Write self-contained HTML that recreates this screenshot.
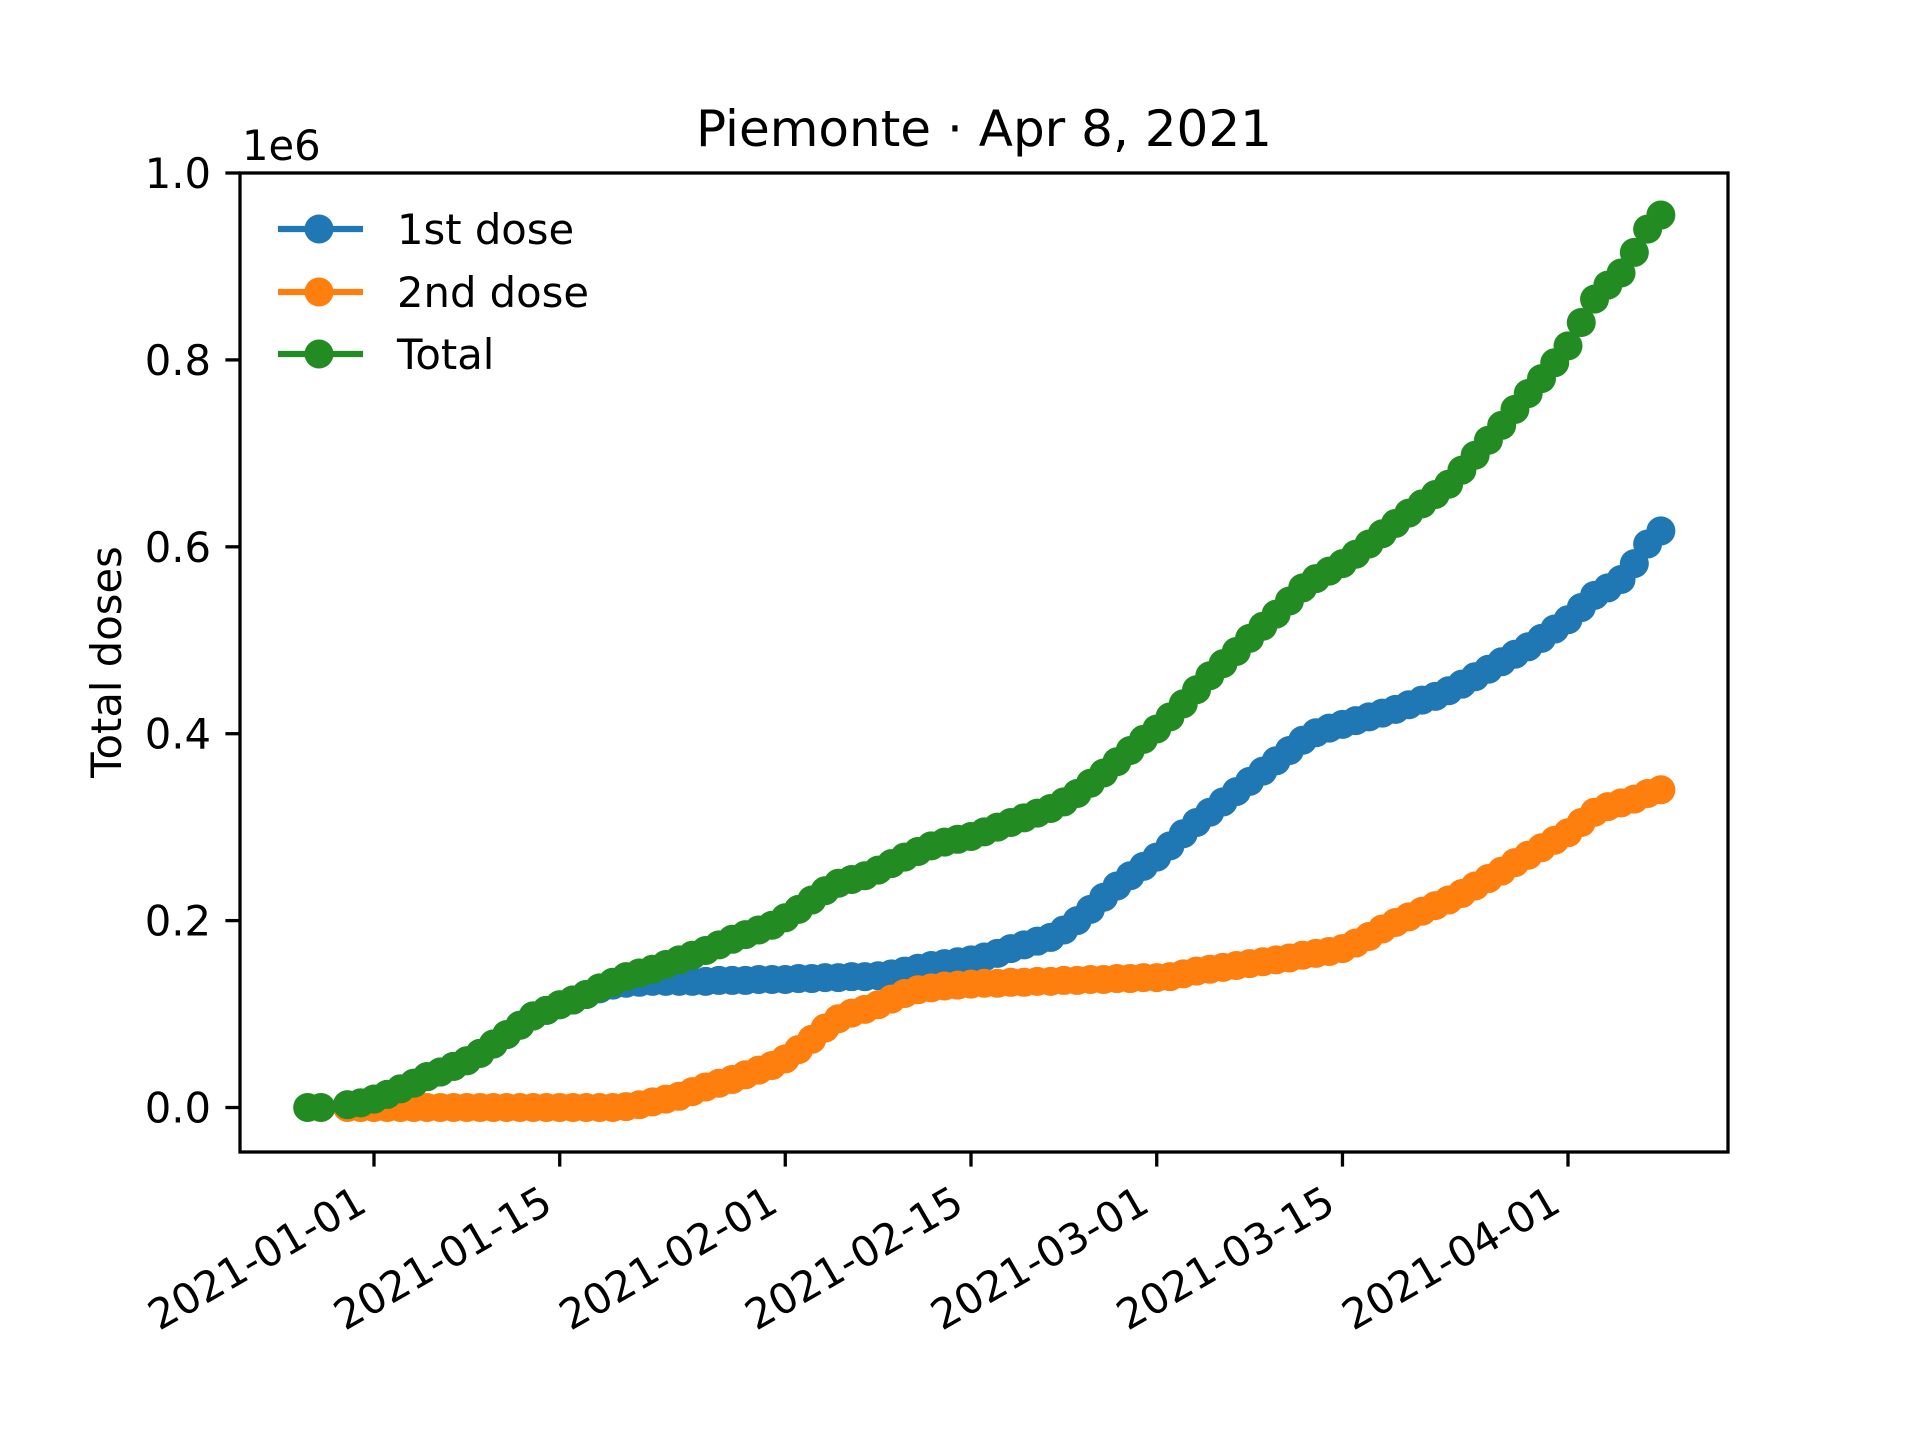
<!DOCTYPE html>
<html><head><meta charset="utf-8"><style>
html,body{margin:0;padding:0;background:#fff;}
svg{display:block;font-family:"DejaVu Sans","Liberation Sans",sans-serif;}
</style></head><body>
<svg id="chart" width="1920" height="1440" viewBox="0 0 1920 1440" xmlns="http://www.w3.org/2000/svg">
<rect width="1920" height="1440" fill="#fff"/>
<g id="plot"></g>
</svg>
<script>
// ---- data (thousands of doses) ----
const startDate = '2020-12-30';
const totalEarlyDates = ['2020-12-27','2020-12-28'];
const totalEarlyValues = [0, 0];
const firstDose = [3,5,
9,14,20,26,33,38,44,50,58,68,78,88,98,104,110,115,121,127,131,133,134,135,135,135,135,135,136,136,136,137,137,
137,138,138,139,139,140,140,141,143,146,149,152,154,156,158,161,165,170,174,178,182,190,200,212,225,237,248,258,
268,280,293,305,316,327,338,349,360,371,382,393,401,406,410,414,418,422,426,431,436,440,446,453,461,469,477,485,493,502,512,
522,535,548,556,565,582,603,617];
const secondDose = [0,0,
0,0,0,0,0,0,0,0,0,0,0,0,0,0,0,0,0,0,0,1,3,6,9,12,17,22,26,30,35,40,45,
52,62,73,85,95,101,105,110,116,122,126,128,130,131,132,133,133,134,134,135,135,136,136,137,137,138,138,139,
139,140,143,146,148,150,152,154,156,158,160,163,165,167,170,176,183,191,198,204,210,216,222,229,237,245,253,262,270,278,286,
294,305,316,322,326,330,336,340];
const totalDoses = [3,5,
9,14,20,26,33,38,44,50,58,68,78,88,98,104,110,115,121,128,134,140,144,148,153,158,163,168,174,180,185,190,195,
203,212,222,232,240,244,248,254,261,268,274,280,284,287,290,295,300,305,310,315,320,327,336,347,358,370,382,394,
405,418,432,447,462,475,488,502,515,528,542,556,566,574,582,592,603,614,625,636,646,656,667,682,698,714,730,747,764,780,797,
815,840,865,880,893,915,940,955];
const xTickLabels = ['2021-01-01','2021-01-15','2021-02-01','2021-02-15','2021-03-01','2021-03-15','2021-04-01'];
const yTickValues = [0,0.2,0.4,0.6,0.8,1.0];
const yTickLabels = ['0.0','0.2','0.4','0.6','0.8','1.0'];

// ---- axes ----
const L=240,R=1728,T=173,B=1152;
const DAY=86400000;
const day0=Date.parse('2021-01-01');
const dayOf=s=>(Date.parse(s)-day0)/DAY;
const xmin=-10.1,xmax=102.06, ymin=-0.0476, ymax=1.0;
const X=d=>L+(d-xmin)/(xmax-xmin)*(R-L);
const Y=v=>B-(v-ymin)/(ymax-ymin)*(B-T);
const NS='http://www.w3.org/2000/svg';
const g=document.getElementById('plot');
function mk(tag,attrs,parent){const e=document.createElementNS(NS,tag);for(const k in attrs)e.setAttribute(k,attrs[k]);(parent||g).appendChild(e);return e;}
const s0=dayOf(startDate);
const MR=14.5;

function drawSeries(name,color,vals,extraDates,extraVals){
  const grp=mk('g',{});
  
  
  const pts=[];
  if(extraDates){extraDates.forEach((d,i)=>pts.push([X(dayOf(d)),Y(extraVals[i]/1000)]));}
  vals.forEach((v,i)=>pts.push([X(s0+i),Y(v/1000)]));
  const ln=mk('polyline',{points:pts.map(p=>p.join(',')).join(' '),fill:'none',stroke:color,'stroke-width':6.25,'stroke-linejoin':'round'},grp);
  
  
  pts.forEach(p=>{
    const c=mk('circle',{cx:p[0],cy:p[1],r:MR,fill:color},grp);
    
    
  });
}
drawSeries('first-dose','#1f77b4',firstDose);
drawSeries('second-dose','#ff7f0e',secondDose);
drawSeries('total','#228b22',totalDoses,totalEarlyDates,totalEarlyValues);

// spines
const frame=mk('rect',{x:L,y:T,width:R-L,height:B-T,fill:'none',stroke:'#000','stroke-width':3.3});



// y ticks
yTickValues.forEach((v,i)=>{
  const y=Y(v);
  const t=mk('line',{x1:L-14.6,x2:L,y1:y,y2:y,stroke:'#000','stroke-width':3.3});
  
  
  const tx=mk('text',{x:211,y:y+15,'text-anchor':'end','font-size':41.7,fill:'#000'});
  tx.textContent=yTickLabels[i];
  
  
});
// x ticks
xTickLabels.forEach(s=>{
  const x=X(dayOf(s));
  const t=mk('line',{x1:x,x2:x,y1:B,y2:B+14.6,stroke:'#000','stroke-width':3.3});
  
  
  const tx=mk('text',{x:x-5,y:1210,'text-anchor':'end','font-size':41.7,fill:'#000',transform:`rotate(-30 ${x-5} 1210)`});
  tx.textContent=s;
  
  
});

// texts
let e=mk('text',{x:984,y:146,'text-anchor':'middle','font-size':50,fill:'#000'});
e.textContent='Piemonte · Apr 8, 2021';


e=mk('text',{x:242,y:160,'text-anchor':'start','font-size':41.7,fill:'#000'});
e.textContent='1e6';


e=mk('text',{x:121,y:662,'text-anchor':'middle','font-size':41.7,fill:'#000',transform:'rotate(-90 121 662)'});
e.textContent='Total doses';



// legend
const legendNames=['1st dose','2nd dose','Total'];
const legendColors=['#1f77b4','#ff7f0e','#228b22'];
const legendY=[229,292,354];
legendNames.forEach((n,i)=>{
  const lg=mk('g',{});
  
  
  mk('line',{x1:278,x2:363,y1:legendY[i],y2:legendY[i],stroke:legendColors[i],'stroke-width':6.25},lg);
  mk('circle',{cx:319,cy:legendY[i],r:MR,fill:legendColors[i]},lg);
  const t=mk('text',{x:397,y:legendY[i]+15,'font-size':41.7,fill:'#000'},lg);
  t.textContent=n;
});
</script>
</body></html>
